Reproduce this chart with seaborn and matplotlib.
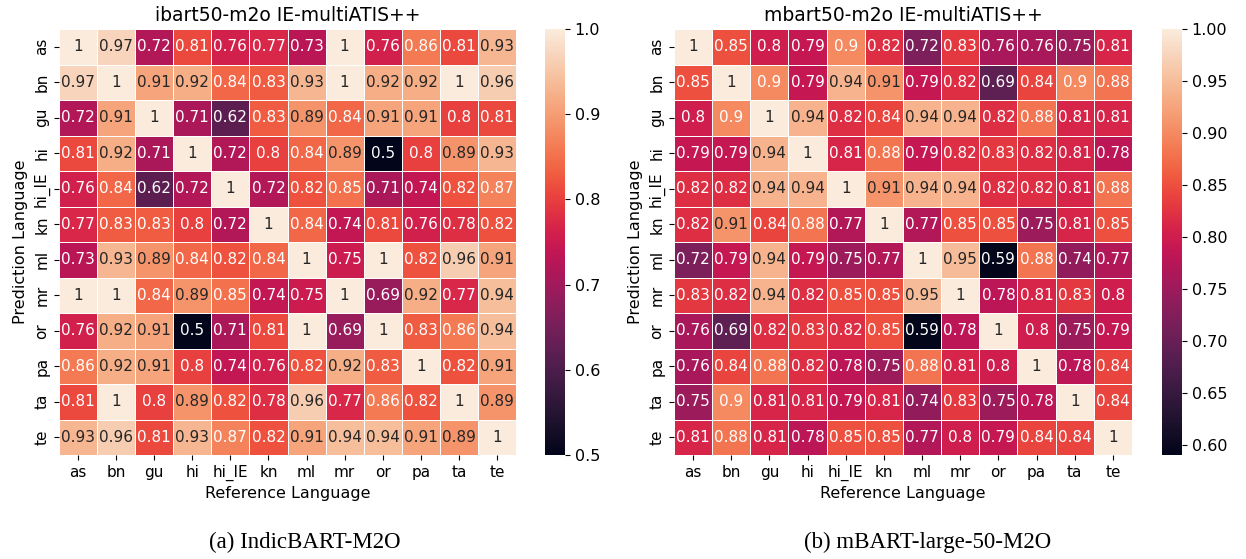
import numpy as np
import pandas as pd
import matplotlib
matplotlib.use("Agg")
import matplotlib.pyplot as plt
import seaborn as sns

# --- DATA ---
LANGS = ['as', 'bn', 'gu', 'hi', 'hi_IE', 'kn', 'ml', 'mr', 'or', 'pa', 'ta', 'te']

ibart_scores = [
    [1, .97, .72, .81, .76, .77, .73, 1, .76, .86, .81, .93],
    [.97, 1, .91, .92, .84, .83, .93, 1, .92, .92, 1, .96],
    [.72, .91, 1, .71, .62, .83, .89, .84, .91, .91, .8, .81],
    [.81, .92, .71, 1, .72, .8, .84, .89, .5, .8, .89, .93],
    [.76, .84, .62, .72, 1, .72, .82, .85, .71, .74, .82, .87],
    [.77, .83, .83, .8, .72, 1, .84, .74, .81, .76, .78, .82],
    [.73, .93, .89, .84, .82, .84, 1, .75, 1, .82, .96, .91],
    [1, 1, .84, .89, .85, .74, .75, 1, .69, .92, .77, .94],
    [.76, .92, .91, .5, .71, .81, 1, .69, 1, .83, .86, .94],
    [.86, .92, .91, .8, .74, .76, .82, .92, .83, 1, .82, .91],
    [.81, 1, .8, .89, .82, .78, .96, .77, .86, .82, 1, .89],
    [.93, .96, .81, .93, .87, .82, .91, .94, .94, .91, .89, 1],
]

mbart_scores = [
    [1, .85, .8, .79, .9, .82, .72, .83, .76, .76, .75, .81],
    [.85, 1, .9, .79, .94, .91, .79, .82, .69, .84, .9, .88],
    [.8, .9, 1, .94, .82, .84, .94, .94, .82, .88, .81, .81],
    [.79, .79, .94, 1, .81, .88, .79, .82, .83, .82, .81, .78],
    [.82, .82, .94, .94, 1, .91, .94, .94, .82, .82, .81, .88],
    [.82, .91, .84, .88, .77, 1, .77, .85, .85, .75, .81, .85],
    [.72, .79, .94, .79, .75, .77, 1, .95, .59, .88, .74, .77],
    [.83, .82, .94, .82, .85, .85, .95, 1, .78, .81, .83, .8],
    [.76, .69, .82, .83, .82, .85, .59, .78, 1, .8, .75, .79],
    [.76, .84, .88, .82, .78, .75, .88, .81, .8, 1, .78, .84],
    [.75, .9, .81, .81, .79, .81, .74, .83, .75, .78, 1, .84],
    [.81, .88, .81, .78, .85, .85, .77, .8, .79, .84, .84, 1],
]

TITLES = ['ibart50-m2o IE-multiATIS++', 'mbart50-m2o IE-multiATIS++']
CAPTIONS = ['(a) IndicBART-M2O', '(b) mBART-large-50-M2O']

W, H = 1246, 559

def px_box(x0, y0, x1, y1):
    # pixel box (top-left origin) -> figure fraction
    return [x0 / W, 1 - y1 / H, (x1 - x0) / W, (y1 - y0) / H]

fig = plt.figure(figsize=(W / 100, H / 100), dpi=100)

panels = [
    (ibart_scores, px_box(59, 29, 516, 455), px_box(545, 29, 565, 455), 305),
    (mbart_scores, px_box(674, 29, 1132, 455), px_box(1162, 29, 1182, 455), 928),
]

for (scores, ax_box, cb_box, cap_x), title, caption in zip(panels, TITLES, CAPTIONS):
    df = pd.DataFrame(scores, index=LANGS, columns=LANGS)
    ax = fig.add_axes(ax_box)
    cax = fig.add_axes(cb_box)
    sns.heatmap(df, annot=True, linewidths=.5, ax=ax, cbar_ax=cax,
                annot_kws={'fontsize': 11})
    ax.set_title(title, fontsize=13.5)
    ax.set_xlabel('Reference Language', fontsize=11.5)
    ax.set_ylabel('Prediction Language', fontsize=11.5)
    ax.tick_params(labelsize=11)
    cax.tick_params(labelsize=11.5)
    fig.text(cap_x / W, 1 - 542 / H, caption, ha='center', va='center',
             fontsize=16.5, family=['Liberation Serif', 'DejaVu Serif'])

fig.savefig('out.png', dpi=100)
